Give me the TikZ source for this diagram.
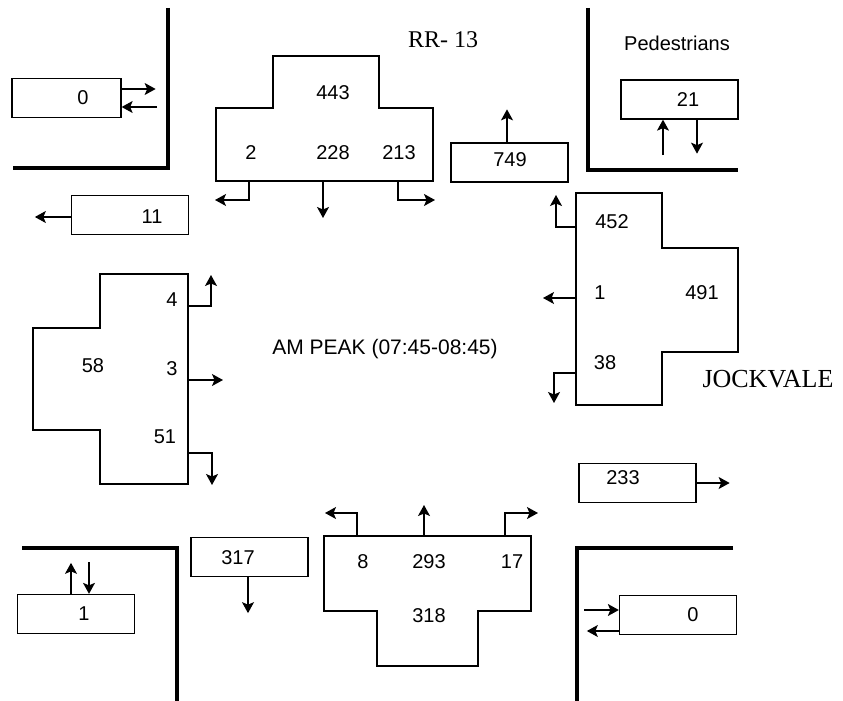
\documentclass[tikz,border=0pt]{standalone}
\usepackage{fontspec}
\setmainfont{Liberation Sans}
\newfontfamily\roadfont{Liberation Serif}
\usetikzlibrary{arrows.meta}

\begin{document}
\begin{tikzpicture}[x=1pt, y=-1pt, line width=1.3pt,
  flow/.style={-{Stealth[length=11pt,width=12pt,inset=2.5pt]}},
  vbox/.style={draw, minimum width=117pt, minimum height=39pt, inner sep=0pt},
  curb/.style={line width=4pt},
  num/.style={font=\fontsize{20}{20}\selectfont, inner sep=0pt},
  road/.style={font=\roadfont\fontsize{24}{24}\selectfont, inner sep=0pt}]
\useasboundingbox (0,0) rectangle (843,701);

% curbs of the four corners
\draw[curb] (168,8) -- (168,168) -- (13,168);
\draw[curb] (588,8) -- (588,170) -- (738,170);
\draw[curb] (22,548) -- (177,548) -- (177,701);
\draw[curb] (733,548) -- (577,548) -- (577,701);

% titles
\node[road] (rrname) at (443,40) {RR- 13};
\node[road, font=\roadfont\fontsize{26}{26}\selectfont] (jvname) at (768,379) {JOCKVALE};
\node[num, font=\fontsize{20}{20}\selectfont] (pedname) at (677,43) {Pedestrians};
\node[num, font=\fontsize{21}{21}\selectfont] (peak) at (385,349) {AM PEAK (07:45-08:45)};

% pedestrian boxes
\node[vbox, minimum width=109pt] (nwped) at (66.5,98) {};
\node[num] (nwpedv) at (83,98) {0};
\coordinate (nwin) at (157,107);
\draw[flow] ([yshift=9pt]nwped.east) -- ++(34,0);
\draw[flow] (nwin) -- (nwin -| nwped.east);

\node[vbox] (neped) at (679.5,99.5) {};
\node[num] (nepedv) at (688,100) {21};
\coordinate (nein) at (663,155);
\draw[flow] (nein) -- (nein |- neped.south);
\draw[flow] ([xshift=17.5pt]neped.south) -- ++(0,34);

\node[vbox] (swped) at (76,614) {};
\node[num] (swpedv) at (84,614) {1};
\coordinate (swin) at (89,562);
\draw[flow] ([xshift=-5pt]swped.north) -- ++(0,-31);
\draw[flow] (swin) -- (swin |- swped.north);

\node[vbox] (seped) at (678,615) {};
\node[num] (sepedv) at (693,615) {0};
\coordinate (sein) at (584,610);
\draw[flow] (sein) -- (sein -| seped.west);
\draw[flow] ([yshift=-16pt]seped.west) -- ++(-32,0);

% outbound volumes
\node[vbox] (wbout) at (130,215) {};
\node[num] (wboutv) at (152,217) {11};
\draw[flow] ([yshift=-2pt]wbout.west) -- ++(-36,0);

\node[vbox] (nbout) at (509.5,162.5) {};
\node[num] (nboutv) at (510,160) {749};
\draw[flow] ([xshift=-2.5pt]nbout.north) -- ++(0,-33);

\node[vbox] (ebout) at (637.5,483) {};
\node[num] (eboutv) at (623,478) {233};
\draw[flow] (ebout.east) -- ++(33,0);

\node[vbox] (sbout) at (249.5,557) {};
\node[num] (sboutv) at (238,558) {317};
\draw[flow] ([xshift=-1.5pt]sbout.south) -- ++(0,36);

% north approach
\draw (273,56) -- (379,56) -- (379,108) -- (433,108) -- (433,181) -- (216,181) -- (216,108) -- (273,108) -- cycle;
\node[num] (ntot) at (333,93) {443};
\node[num] (nlt) at (251,153) {2};
\node[num] (nth) at (333,153) {228};
\node[num] (nrt) at (399,153) {213};
\coordinate (nL) at (249,181);
\coordinate (nT) at (323,181);
\coordinate (nR) at (398,181);
\draw[flow] (nL) |- ++(-34,19);
\draw[flow] (nT) -- ++(0,37);
\draw[flow] (nR) |- ++(37,19);

% east approach
\draw (576,193) -- (662,193) -- (662,248) -- (738,248) -- (738,352) -- (662,352) -- (662,405) -- (576,405) -- cycle;
\node[num] (ert) at (612,222) {452};
\node[num] (eth) at (600,293) {1};
\node[num] (etot) at (702,293) {491};
\node[num] (elt) at (605,363) {38};
\coordinate (eR) at (576,227);
\coordinate (eT) at (576,298);
\coordinate (eL) at (576,373);
\draw[flow] (eR) -| ++(-20,-32);
\draw[flow] (eT) -- ++(-33,0);
\draw[flow] (eL) -| ++(-22,30);

% west approach
\draw (100,274) -- (188,274) -- (188,484) -- (100,484) -- (100,430) -- (33,430) -- (33,328) -- (100,328) -- cycle;
\node[num] (wlt) at (172,300) {4};
\node[num] (wtot) at (93,366) {58};
\node[num] (wth) at (172,369) {3};
\node[num] (wrt) at (165,437) {51};
\coordinate (wL) at (188,306);
\coordinate (wT) at (188,380);
\coordinate (wR) at (188,453);
\draw[flow] (wL) -| ++(23,-31);
\draw[flow] (wT) -- ++(35,0);
\draw[flow] (wR) -| ++(24,32);

% south approach
\draw (324,536) -- (531,536) -- (531,611) -- (478,611) -- (478,666) -- (377,666) -- (377,611) -- (324,611) -- cycle;
\node[num] (slt) at (363,562) {8};
\node[num] (sth) at (429,562) {293};
\node[num] (srt) at (512,562) {17};
\node[num] (stot) at (429,616) {318};
\coordinate (sL) at (357,536);
\coordinate (sT) at (424,536);
\coordinate (sR) at (505,536);
\draw[flow] (sL) |- ++(-32,-23);
\draw[flow] (sT) -- ++(0,-31);
\draw[flow] (sR) |- ++(33,-23);
\end{tikzpicture}
\end{document}
